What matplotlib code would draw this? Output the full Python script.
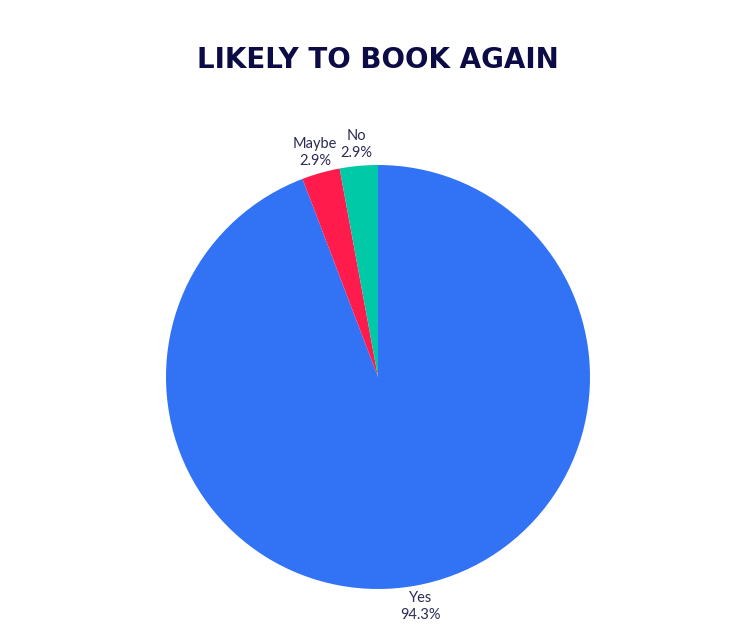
import numpy as np
import matplotlib
matplotlib.use("Agg")
import matplotlib.pyplot as plt

# data
labels = ["Yes", "Maybe", "No"]
values = [94.3, 2.9, 2.9]
colors = ["#3273F6", "#FF1B4C", "#00C9A7"]

title_color = "#0D0B45"
label_color = "#2B2B55"

fig = plt.figure(figsize=(7.56, 6.3), dpi=100)
fig.patch.set_facecolor("white")

# pie axes: center at (378, 377) px, radius ~212 px
cx, cy, r = 378 / 756, 1 - 377 / 630, 212
ax = fig.add_axes([cx - r / 756, cy - r / 630, 2 * r / 756, 2 * r / 630])

wedges, _ = ax.pie(values, colors=colors, startangle=90, counterclock=False,
                   wedgeprops=dict(linewidth=0))
ax.set_xlim(-1, 1)
ax.set_ylim(-1, 1)
ax.set_aspect("equal")
ax.axis("off")

# labels outside each wedge
for w, lab, v in zip(wedges, labels, values):
    ang = np.deg2rad((w.theta1 + w.theta2) / 2)
    x, y = 1.1 * np.cos(ang), 1.1 * np.sin(ang)
    ax.text(x, y, f"{lab}\n{v:.1f}%", ha="center", va="center",
            fontsize=10.5, color=label_color, family="Lato",
            linespacing=1.3, clip_on=False)

fig.text(0.5, 1 - 60 / 630, "LIKELY TO BOOK AGAIN", ha="center", va="center",
         fontsize=20, fontweight="bold", color=title_color, family="DejaVu Sans")

fig.savefig("out.png", dpi=100, facecolor="white")
